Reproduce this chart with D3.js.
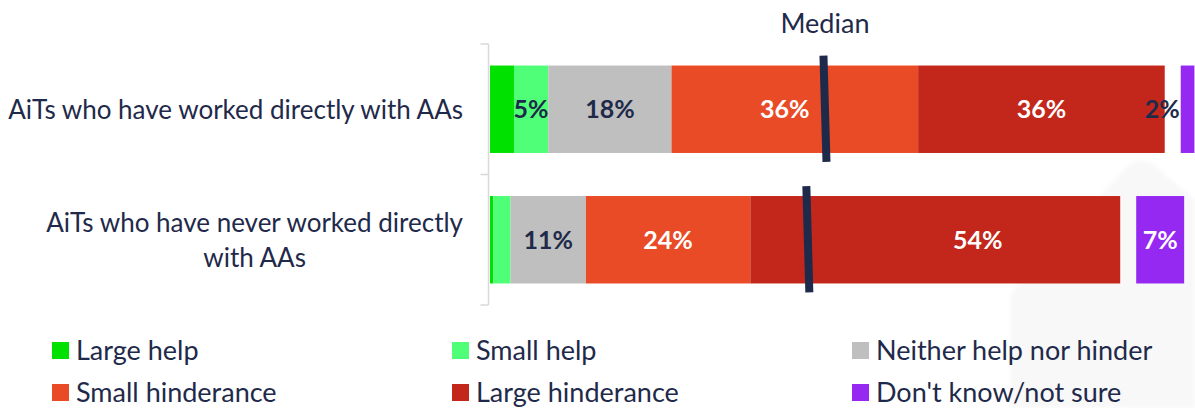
<!DOCTYPE html>
<html>
<head>
<meta charset="utf-8">
<script src="https://cdn.jsdelivr.net/npm/d3@7"></script>
<style>
  html, body { margin: 0; padding: 0; background: #ffffff; }
  svg { display: block; }
  text { font-family: Lato, "Open Sans", sans-serif; }
</style>
</head>
<body>
<svg id="chart" width="1195" height="408"></svg>
<script>
// ---- data ----
const categories = [
  "AiTs who have worked directly with AAs",
  "AiTs who have never worked directly\nwith AAs"
];
const seriesNames = [
  "Large help",
  "Small help",
  "Neither help nor hinder",
  "Small hinderance",
  "Large hinderance",
  "Don't know/not sure"
];
const largeHelp   = [3.5, 0.5];
const smallHelp   = [5, 2.5];
const neither     = [18, 11];
const smallHinder = [36, 24];
const largeHinder = [36, 54];
const dontKnow    = [2, 7];
const medians     = [48.9, 46.4];
const medianLabel = "Median";

// ---- styling ----
const colors = ["#00e100", "#50ff78", "#bfbfbf", "#e94b26", "#c3271b", "#9529f2"];
const labelColors = ["#1f2a4a", "#1f2a4a", "#1f2a4a", "#ffffff", "#ffffff", "#ffffff"];
const navy = "#1f2a4a";

const seriesValues = [largeHelp, smallHelp, neither, smallHinder, largeHinder, dontKnow];

const svg = d3.select("#chart");

// faint decorative backdrop shape
const defs = svg.append("defs");
defs.append("filter").attr("id", "soft")
  .append("feGaussianBlur").attr("stdDeviation", 2);
svg.append("path")
  .attr("d", "M1010,408 L1010,302 Q1010,294 1016,287 L1126,168 Q1140,154 1155,166 L1195,200 L1195,408 Z")
  .attr("fill", "#f8f8f8")
  .attr("filter", "url(#soft)");

const x = d3.scaleLinear().domain([0, 100]).range([490, 1175]);
const y = d3.scaleBand().domain(categories).range([44, 305])
  .paddingInner(0.33).paddingOuter(0.165);

const dkGap = 16;   // space between the stacked bar and the separate "don't know" bar

// build stacked rows
const rows = categories.map((cat, i) => {
  let cum = 0;
  const segs = [];
  seriesValues.forEach((vals, s) => {
    const v = vals[i];
    if (s === seriesValues.length - 1) {
      const x0 = x(cum) + dkGap;
      segs.push({ s, v, x0, x1: x0 + (x(v) - x(0)), cat, separate: true });
    } else {
      segs.push({ s, v, x0: x(cum), x1: x(cum + v), cat, separate: false });
      cum += v;
    }
  });
  return { cat, segs, median: medians[i] };
});

// axis line with separators between categories
const axisX = 488.5;
const bounds = [y.range()[0], y.range()[0] + (y.range()[1] - y.range()[0]) / 2, y.range()[1]];
const axisG = svg.append("g").attr("fill", "none").attr("stroke", "#d9d9d9").attr("stroke-width", 1.5);
axisG.append("line").attr("x1", axisX).attr("x2", axisX).attr("y1", bounds[0]).attr("y2", bounds[2]);
axisG.selectAll("line.tick").data(bounds).join("line").attr("class", "tick")
  .attr("x1", axisX - 8).attr("x2", axisX).attr("y1", d => d).attr("y2", d => d);

// bars
const rowG = svg.selectAll("g.row").data(rows).join("g").attr("class", "row");
rowG.selectAll("rect").data(d => d.segs).join("rect")
  .attr("x", d => d.x0)
  .attr("y", d => y(d.cat))
  .attr("width", d => Math.max(0, d.x1 - d.x0))
  .attr("height", y.bandwidth())
  .attr("fill", d => colors[d.s]);

// value labels
const labelFont = 25;
rows.forEach(row => {
  const mx = x(row.median);
  row.segs.forEach(d => {
    if (!(d.v >= 5 || d.separate)) return;
    const txt = d3.format(".0f")(d.v) + "%";
    const cy = y(d.cat) + y.bandwidth() / 2;
    let lx = (d.x0 + d.x1) / 2;
    let anchor = "middle";
    let fill = labelColors[d.s];
    if (!d.separate && mx > d.x0 && mx < d.x1) {
      lx += (lx - mx) / 3;           // nudge away from the median marker
    }
    if (d.separate && d.x1 - d.x0 < 30) {
      lx = d.x0 - 1; anchor = "end"; fill = navy;
    }
    svg.append("text")
      .attr("x", lx).attr("y", cy).attr("dy", "0.36em")
      .attr("text-anchor", anchor)
      .attr("font-size", labelFont).attr("font-weight", 700)
      .attr("fill", fill)
      .text(txt);
  });
});

// median markers
rows.forEach(row => {
  const mx = x(row.median);
  const top = y(row.cat) - 10, bot = y(row.cat) + y.bandwidth() + 9;
  svg.append("line")
    .attr("x1", mx - 1.5).attr("y1", top)
    .attr("x2", mx + 1.5).attr("y2", bot)
    .attr("stroke", navy).attr("stroke-width", 8);
});
svg.append("text")
  .attr("x", x(medians[0])).attr("y", 33)
  .attr("text-anchor", "middle")
  .attr("font-size", 27).attr("fill", navy)
  .text(medianLabel);

// category labels: lines share a centre, widest line ends near the axis
const catFont = 26;
const catRight = 463;
categories.forEach(cat => {
  const lines = cat.split("\n");
  const lh = 35;
  const g = svg.append("g");
  const cy = y(cat) + y.bandwidth() / 2;
  const t = g.selectAll("text").data(lines).join("text")
    .attr("font-size", catFont).attr("fill", navy)
    .attr("text-anchor", "middle")
    .attr("y", (d, i) => cy + (i - (lines.length - 1) / 2) * lh)
    .attr("dy", "0.36em")
    .text(d => d);
  const w = d3.max(t.nodes(), n => n.getComputedTextLength());
  t.attr("x", catRight - w / 2);
});

// legend: three columns, two rows
const legCols = [52, 452, 852];
const legRows = [342, 384];
const sw = 17;
const leg = svg.selectAll("g.leg").data(seriesNames).join("g").attr("class", "leg")
  .attr("transform", (d, i) => `translate(${legCols[i % 3]},${legRows[Math.floor(i / 3)]})`);
leg.append("rect").attr("width", sw).attr("height", sw).attr("fill", (d, i) => colors[i]);
leg.append("text").attr("x", 24).attr("y", sw / 2).attr("dy", "0.36em")
  .attr("font-size", 27).attr("fill", navy).text(d => d);
</script>
</body>
</html>
